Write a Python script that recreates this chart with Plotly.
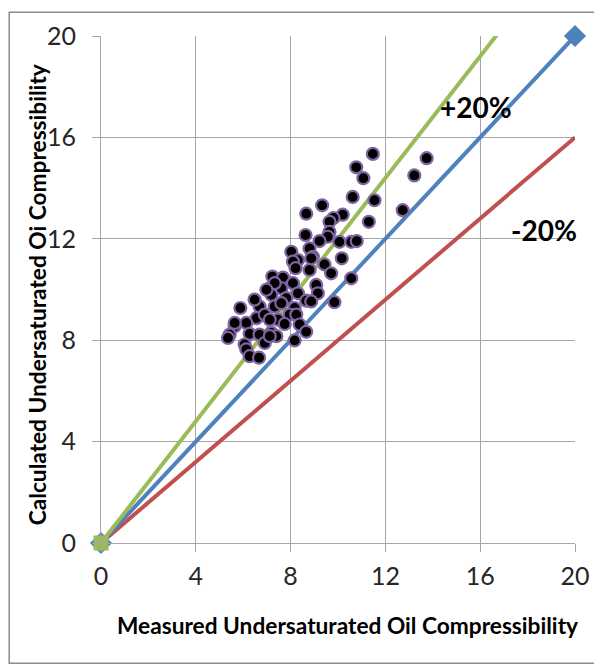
import plotly.graph_objects as go

measured = [11.47, 13.74, 10.77, 11.07, 13.22, 10.62, 11.54, 9.33, 8.66, 12.73,
            10.20, 9.81, 9.64, 11.30, 8.63, 9.64, 9.57, 9.22, 10.06, 10.56,
            10.79, 8.80, 8.03, 8.94, 8.31, 8.10, 10.16, 9.43, 8.21, 9.71,
            8.80, 7.23, 7.68, 10.56, 8.10, 9.08, 7.12, 7.61, 7.19, 8.31,
            9.15, 7.82, 8.66, 8.87, 6.69, 7.33, 9.85, 5.88, 8.17, 6.56,
            6.91, 7.96, 8.24, 7.47, 6.13, 5.64, 5.43, 5.36, 7.75, 8.38,
            6.27, 6.69, 7.19, 7.40, 8.66, 8.17, 6.91, 6.06, 6.13, 6.27,
            6.67, 7.12, 7.12, 5.64, 7.61, 7.33, 6.98, 6.48, 8.87]
calculated = [15.35, 15.18, 14.82, 14.39, 14.50, 13.65, 13.52, 13.32, 12.99, 13.13,
              12.95, 12.82, 12.67, 12.67, 12.15, 12.27, 12.08, 11.91, 11.88, 11.88,
              11.91, 11.62, 11.49, 11.29, 11.16, 11.10, 11.23, 10.99, 10.84, 10.64,
              10.77, 10.51, 10.47, 10.44, 10.25, 10.18, 10.05, 10.05, 9.79, 9.85,
              9.85, 9.66, 9.56, 9.53, 9.33, 9.33, 9.50, 9.27, 9.27, 8.87,
              9.01, 9.01, 9.01, 8.81, 8.68, 8.55, 8.22, 8.09, 8.64, 8.62,
              8.25, 8.22, 8.29, 8.16, 8.33, 7.99, 7.89, 7.83, 7.64, 7.37,
              7.31, 8.81, 8.16, 8.68, 9.46, 10.25, 9.99, 9.60, 11.23]

unity_x = [0, 20]
unity_y = [0, 20]
plus20_x = [0, 20]
plus20_y = [0, 24]
minus20_x = [0, 20]
minus20_y = [0, 16]
ticks = [0, 4, 8, 12, 16, 20]

fig = go.Figure()
fig.add_trace(go.Scatter(x=minus20_x, y=minus20_y, mode="lines",
                         line=dict(color="#C0504D", width=4), showlegend=False))
fig.add_trace(go.Scatter(x=unity_x, y=unity_y, mode="lines+markers",
                         line=dict(color="#4F81BD", width=4),
                         marker=dict(symbol="diamond", size=17, color="#4F81BD"),
                         cliponaxis=False, showlegend=False))
fig.add_trace(go.Scatter(x=plus20_x, y=plus20_y, mode="lines",
                         line=dict(color="#9BBB59", width=4), showlegend=False))
fig.add_trace(go.Scatter(x=plus20_x[:1], y=plus20_y[:1], mode="markers",
                         marker=dict(symbol="square", size=15, color="#9BBB59"),
                         cliponaxis=False, showlegend=False))
fig.add_trace(go.Scatter(x=measured, y=calculated, mode="markers",
                         marker=dict(size=12, color="black",
                                     line=dict(color="#8064A2", width=2.2)),
                         showlegend=False))

# plot area in figure pixels: left 93, top 25, 475 x 510 (20 units each axis)
fig.add_annotation(x=15.83, y=17.18, text="<b>+20%</b>",
                   showarrow=False, font=dict(family="Lato", size=28, color="black"))
fig.add_annotation(x=18.69, y=12.35, text="<b>-20%</b>",
                   showarrow=False, font=dict(family="Lato", size=28, color="black"))

fig.add_annotation(xref="paper", yref="paper", x=0.52, y=-0.1627,
                   text="<b>Measured Undersaturated Oil Compressibility</b>",
                   showarrow=False, xanchor="center", yanchor="middle",
                   font=dict(family="Lato", size=22.7, color="black"))
fig.add_annotation(xref="paper", yref="paper", x=-0.1347, y=0.489, textangle=-90,
                   text="<b>Calculated Undersaturated Oi Compressibility</b>",
                   showarrow=False, xanchor="center", yanchor="middle",
                   font=dict(family="Lato", size=22.7, color="black"))

fig.add_shape(type="rect", xref="paper", yref="paper",
              x0=(1 - 93) / 475, x1=(590 - 93) / 475,
              y0=(535 - 656) / 510, y1=(535 - 1) / 510,
              line=dict(color="#8C8C8C", width=1.5))

axis_common = dict(range=[0, 20], tickvals=ticks, showgrid=True, gridcolor="#A6A6A6",
                   gridwidth=1.2, zeroline=False, showline=True, linecolor="#A6A6A6",
                   linewidth=1.2, ticks="outside", ticklen=8, tickcolor="#A6A6A6",
                   tickfont=dict(family="Lato", size=25, color="#262626"))
fig.update_xaxes(**axis_common, ticklabelstandoff=3)
fig.update_yaxes(**axis_common, ticklabelstandoff=11)

fig.update_layout(width=594, height=660, margin=dict(l=93, r=26, t=25, b=125),
                  plot_bgcolor="white", paper_bgcolor="white")
fig.write_html("out.html")
